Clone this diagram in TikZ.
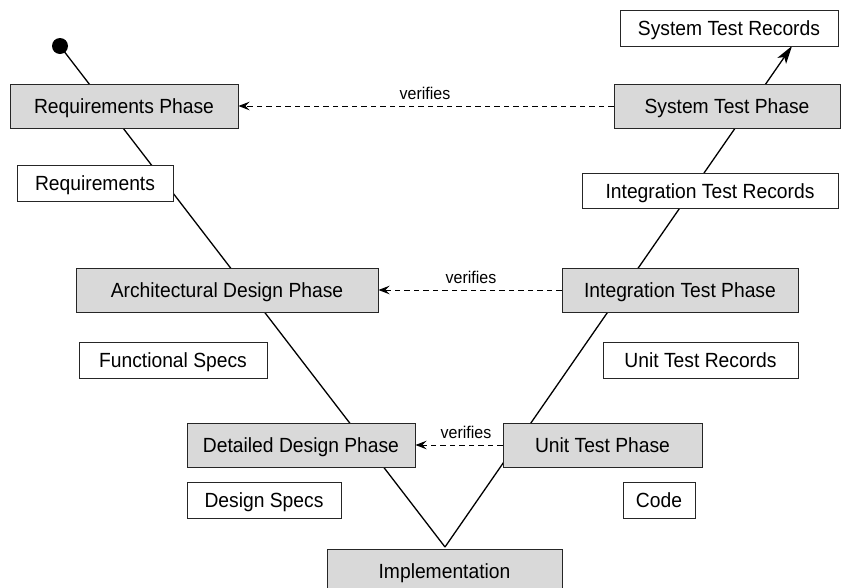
\documentclass[tikz,border=0pt]{standalone}
\usepackage{fontspec}
\setmainfont{Liberation Sans}[FakeStretch=0.94]
\usetikzlibrary{arrows.meta,backgrounds}
\definecolor{phasegray}{RGB}{217,217,217}
\tikzset{
  box/.style={draw=black!85, line width=1pt, fill=white, inner sep=0pt, text height=15pt, text depth=0pt, font=\fontsize{20.5}{24}\selectfont},
  phase/.style={box, fill=phasegray},
  vline/.style={line width=1.3pt},
  verify/.style={dashed, dash pattern=on 5.5pt off 4pt, line width=0.9pt, -{Stealth[length=11pt,width=8.5pt,inset=4pt]}},
  vlabel/.style={font=\fontsize{17}{20}\selectfont, inner sep=0pt}
}
\begin{document}
\begin{tikzpicture}[x=1pt,y=-1pt]
\useasboundingbox (0,0) rectangle (841,587);
% phases
\node[phase, minimum width=228, minimum height=44] (reqp) at (124,106) {Requirements Phase};
\node[phase, minimum width=302, minimum height=44] (archp) at (227,290) {Architectural Design Phase};
\node[phase, minimum width=228, minimum height=44] (detp) at (301,445) {Detailed Design Phase};
\node[phase, minimum width=235, minimum height=43] (impl) at (444.5,570.5) {Implementation};
\node[phase, minimum width=199, minimum height=44] (utp) at (602.5,445) {Unit Test Phase};
\node[phase, minimum width=236, minimum height=44] (itp) at (680,290) {Integration Test Phase};
\node[phase, minimum width=226, minimum height=44] (stp) at (727,106) {System Test Phase};
% artifacts
\node[box, minimum width=156, minimum height=36] (req) at (95,183) {Requirements};
\node[box, minimum width=188, minimum height=36] (func) at (173,360) {Functional Specs};
\node[box, minimum width=154, minimum height=36] (dspec) at (264,500) {Design Specs};
\node[box, minimum width=72, minimum height=36] (code) at (659,500) {Code};
\node[box, minimum width=195, minimum height=36] (utrec) at (700.5,360) {Unit Test Records};
\node[box, minimum width=256, minimum height=35] (itrec) at (710,190.5) {Integration Test Records};
\node[box, minimum width=218, minimum height=36] (strec) at (729,28) {System Test Records};
% start dot
\node[circle, fill=black, inner sep=0pt, minimum size=16] (dot) at (60,46) {};
\coordinate (apex) at (445,547);
\coordinate (tip) at (792,46);
\begin{scope}[on background layer]
\fill[white] (0,0) rectangle (841,587);
\draw[vline] (dot.center) -- (apex);
\draw[vline, -{Stealth[length=18pt,width=10.5pt,inset=4.5pt]}] (apex) -- (tip);
\end{scope}
% verifies
\draw[verify] (stp.west) -- (reqp.east);
\draw[verify] (itp.west) -- (archp.east);
\draw[verify] (utp.west) -- (detp.east);
\node[vlabel] (v1) at (425,93) {verifies};
\node[vlabel] (v2) at (471,277) {verifies};
\node[vlabel] (v3) at (466,432) {verifies};
\end{tikzpicture}
\end{document}
